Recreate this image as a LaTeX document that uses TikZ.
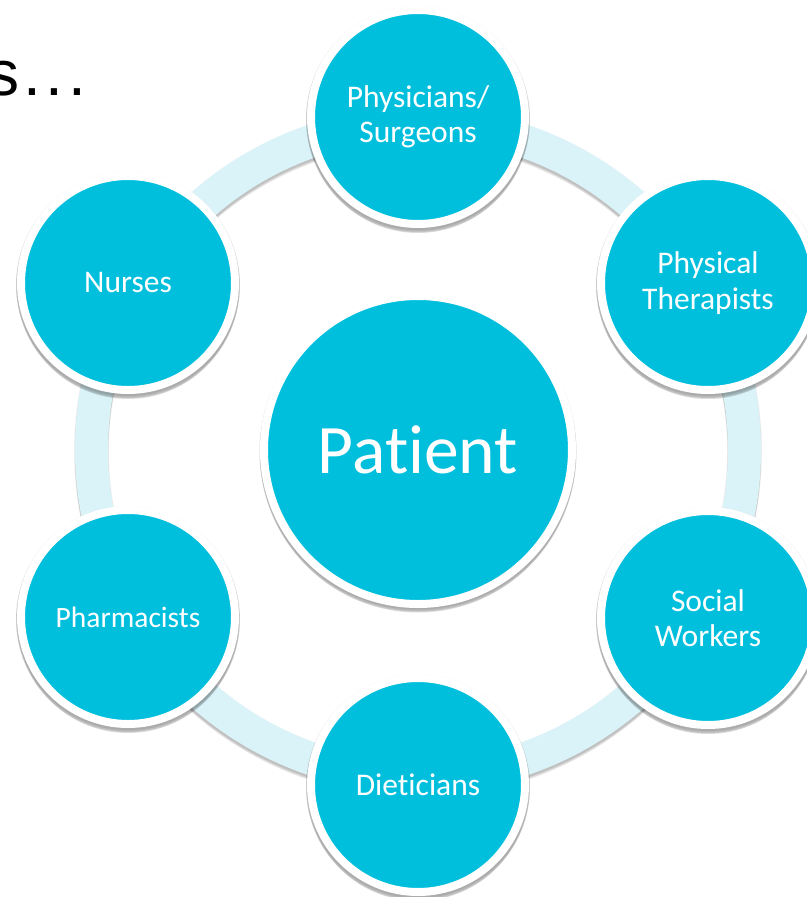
\documentclass[tikz,border=0pt]{standalone}
\usepackage{fontspec}
\setmainfont{Carlito}[Ligatures={NoCommon,NoRare,NoContextual},Contextuals={NoAlternate}]
\newfontfamily\titlefont{Liberation Sans}[LetterSpace=7]
\usetikzlibrary{backgrounds}
\definecolor{teamfill}{HTML}{00BFDD}
\definecolor{ringfill}{HTML}{DAF3F8}
\tikzset{
  x=1pt,y=-1pt,
  member/.style={circle,fill=teamfill,draw=white,line width=8pt,minimum size=214pt,inner sep=0pt,align=center,text=white,font=\fontsize{31.5}{35.5}\selectfont},
  hub/.style={circle,fill=teamfill,draw=white,line width=8pt,minimum size=308pt,inner sep=0pt,text=white,font=\fontsize{69.5}{80}\selectfont},
}
\begin{document}
\begin{tikzpicture}
\useasboundingbox (0,0) rectangle (806,897);
\node[anchor=base west,inner sep=0pt,font=\titlefont\fontsize{64}{64}\selectfont,text=black] (title) at (-13,95) {s...};
\node[hub] (patient) at (418,450) {\raisebox{1pt}{Patient}};
\node[member] (phys) at (418,117) {Physicians/\\Surgeons};
\node[member] (pt) at (708,283) {Physical\\Therapists};
\node[member] (sw) at (708,618) {\raisebox{-1.5pt}{Social}\\\raisebox{-1pt}{Workers}};
\node[member] (diet) at (418,785) {Dieticians};
\node[member,font=\fontsize{29.5}{35.5}\selectfont] (pharm) at (128,617) {Pharmacists};
\node[member] (nurse) at (128,283) {Nurses};
\begin{scope}[on background layer]
  \fill[white] (0,0) rectangle (806,897);
  % ring and its soft shadow
  \foreach \d/\w/\o in {1/35/0.04,2/34/0.05,3/33.5/0.05,4/33/0.05,5/32/0.04,6/31/0.03}{
    \draw[black,opacity=\o,line width=\w pt] ([yshift=-\d pt]patient.center) circle [radius=326.5];
  }
  \draw[ringfill,line width=33pt] (patient.center) circle [radius=326.5];
  % soft shadows of the discs
  \foreach \n/\r in {phys/111,pt/111,sw/111,diet/111,pharm/111,nurse/111,patient/157.5}{
    \foreach \d/\e/\o in {1/1/0.05,2/1/0.07,3/1/0.07,4/0.5/0.06,5/0/0.05,6/-1/0.04,7/-2/0.03}{
      \fill[black,opacity=\o] ([yshift=-\d pt]\n.center) circle [radius=\r+\e];
    }
  }
\end{scope}
\end{tikzpicture}
\end{document}
